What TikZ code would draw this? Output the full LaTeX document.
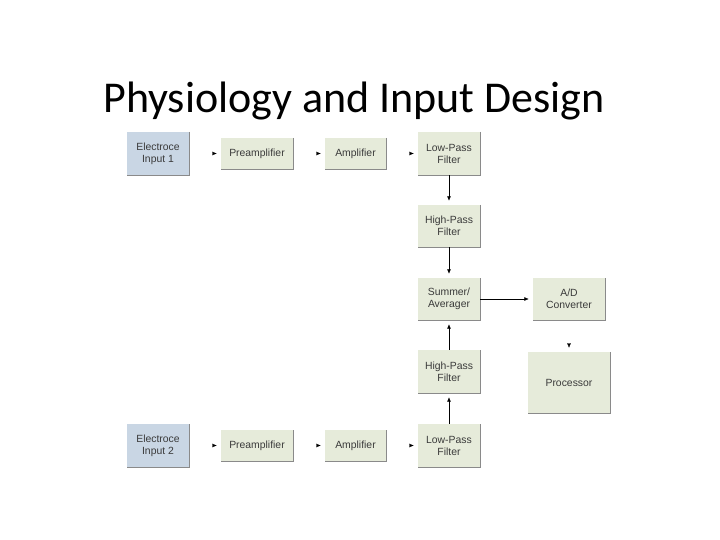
\documentclass[tikz,border=0pt]{standalone}
\usepackage{fontspec}
\setmainfont{Liberation Sans}
\newfontfamily\titlefont{Carlito}
\usetikzlibrary{arrows.meta}
\definecolor{boxgreen}{HTML}{E6EBDA}
\definecolor{boxblue}{HTML}{C9D6E4}
\definecolor{edgegray}{HTML}{8A8A8A}
\definecolor{txtgray}{HTML}{3A3A3A}
\tikzset{
  blk/.style={fill=boxgreen, draw=none, text=txtgray, align=center, inner sep=0pt},
  shade/.style={draw=edgegray, line width=0.8pt},
  tiponly/.style={draw=white, -{Latex[black,length=4.5pt,width=4pt]}, shorten >=4pt, shorten <=2pt},
  conn/.style={draw=black, line width=0.6pt, -{Latex[length=4.5pt,width=4pt]}, shorten >=4pt},
  lbl/.style={text=txtgray, font=\fontsize{10.4}{12}\selectfont, align=center}
}
\newcommand{\bx}[6]{% name, x1, y1, x2, y2, fill
  \node[blk, fill=#6, minimum width={(#4-#2)*1pt}, minimum height={(#5-#3)*1pt}] (#1) at ({(#2+#4)/2},{(#3+#5)/2}) {};
  \draw[shade] (#4,#3) -- (#4,#5) -- (#2,#5);
}
\begin{document}
\begin{tikzpicture}[x=1pt,y=-1pt]
\useasboundingbox (0,0) rectangle (720,540);
\node[font=\titlefont\fontsize{44}{48}\selectfont, text=black] (title) at (354,101) {Physiology and Input Design};

\bx{e1}{127}{132}{189}{175}{boxblue}
\bx{p1}{221}{138}{293}{169}{boxgreen}
\bx{a1}{325}{138}{386}{169}{boxgreen}
\bx{l1}{418}{132}{480}{175}{boxgreen}
\bx{h1}{418}{205}{480}{247}{boxgreen}
\bx{s}{418}{278}{480}{320}{boxgreen}
\bx{ad}{533}{278}{605}{320}{boxgreen}
\bx{h2}{418}{350}{480}{393}{boxgreen}
\bx{pr}{528}{352}{610}{413}{boxgreen}
\bx{e2}{127}{424}{189}{467}{boxblue}
\bx{p2}{221}{430}{293}{461}{boxgreen}
\bx{a2}{325}{430}{386}{461}{boxgreen}
\bx{l2}{418}{424}{480}{467}{boxgreen}

\node[lbl] at (e1) {Electroce\\Input 1};
\node[lbl] at (p1) {Preamplifier};
\node[lbl] at (a1) {Amplifier};
\node[lbl] at (l1) {Low-Pass\\Filter};
\node[lbl] at (h1) {High-Pass\\Filter};
\node[lbl] at (s) {Summer/\\Averager};
\node[lbl] at (ad) {A/D\\Converter};
\node[lbl] at (h2) {High-Pass\\Filter};
\node[lbl] at (pr) {Processor};
\node[lbl] at (e2) {Electroce\\Input 2};
\node[lbl] at (p2) {Preamplifier};
\node[lbl] at (a2) {Amplifier};
\node[lbl] at (l2) {Low-Pass\\Filter};

\draw[tiponly] (e1) -- (p1);
\draw[tiponly] (p1) -- (a1);
\draw[tiponly] (a1.east) -- (l1.west);
\draw[tiponly] (e2) -- (p2);
\draw[tiponly] (p2) -- (a2);
\draw[tiponly] (a2.east) -- (l2.west);
\draw[conn] (l1) -- (h1);
\draw[conn] (h1) -- (s);
\draw[conn] (h2) -- (s);
\draw[conn] (l2) -- (h2);
\draw[conn] (s) -- (ad);
\draw[tiponly] (ad.south -| 569,0) -- (pr.north -| 569,0);
\end{tikzpicture}
\end{document}
